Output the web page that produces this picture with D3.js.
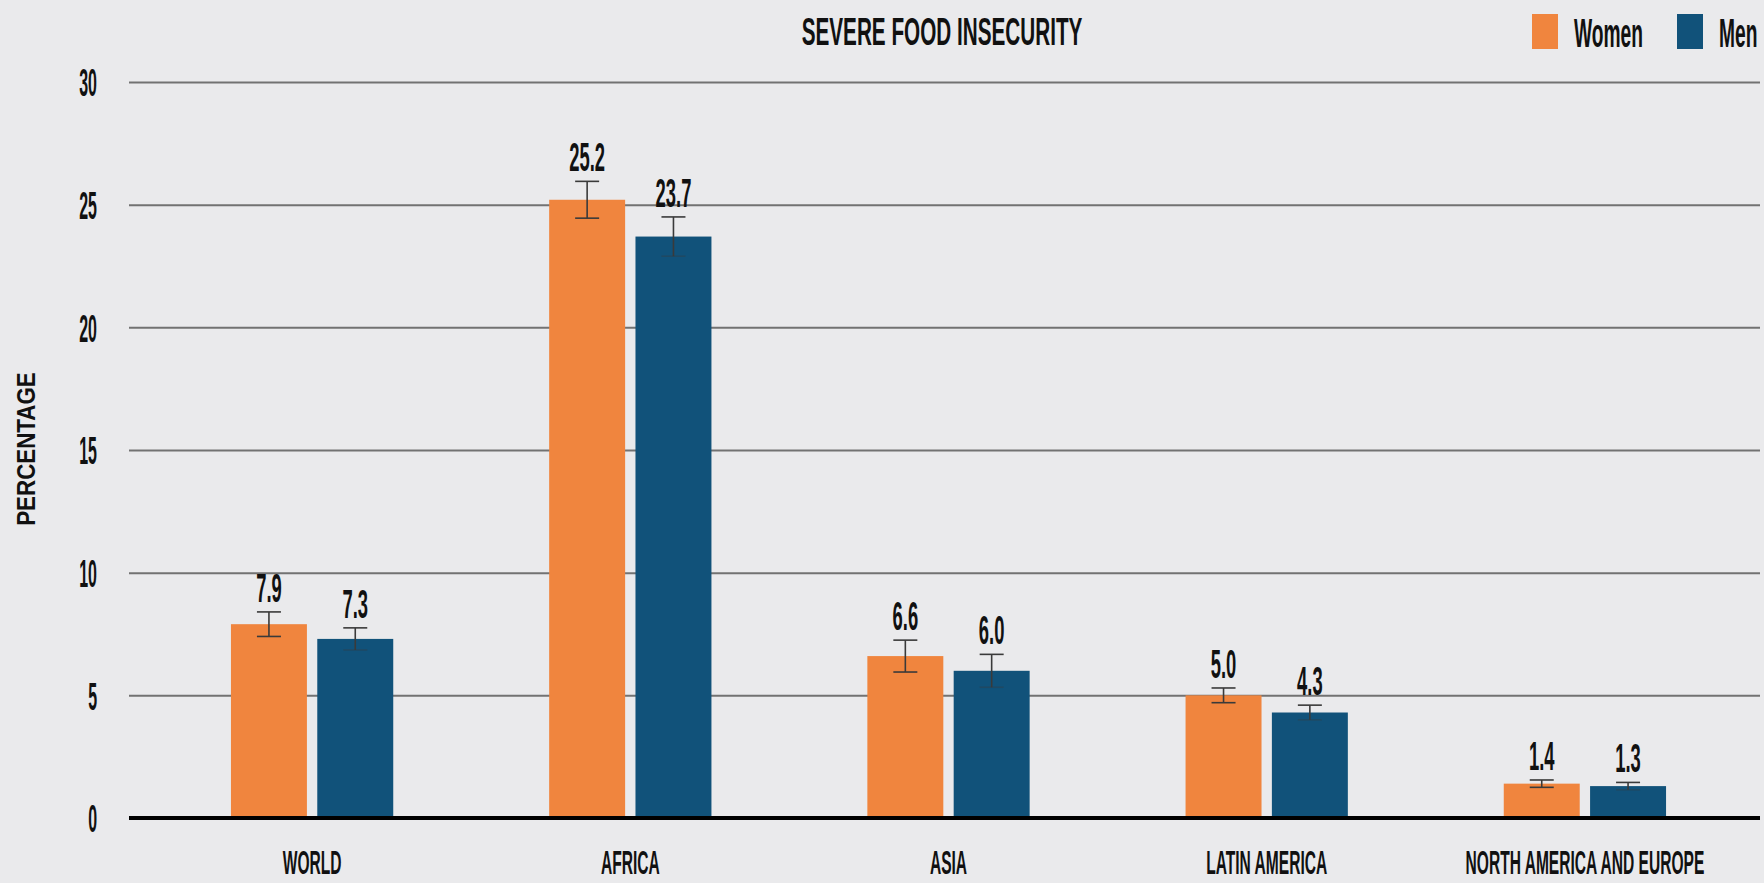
<!DOCTYPE html>
<html lang="en">
  <head>
    <meta charset="utf-8">
    <title>Severe Food Insecurity</title>
    <script src="https://d3js.org/d3.v7.js"></script>
    <style>
      body { margin: 0; background: #eaeaec; }
      text { font-family: "Liberation Sans Narrow", "Liberation Sans", Arial, sans-serif; font-weight: bold; fill: #111; }
    </style>
  </head>
  <body>
    <script>

  // data
  var regions = ["WORLD", "AFRICA", "ASIA", "LATIN AMERICA", "NORTH AMERICA AND EUROPE"];
  var seriesNames = ["Women", "Men"];
  var women = [7.9, 25.2, 6.6, 5.0, 1.4];
  var men = [7.3, 23.7, 6.0, 4.3, 1.3];
  var womenErr = [0.5, 0.75, 0.65, 0.3, 0.15];
  var menErr = [0.45, 0.8, 0.67, 0.3, 0.15];
  var yTicks = [0, 5, 10, 15, 20, 25, 30];

  var w = 1764;
  var h = 883;
  var colors = d3.scaleOrdinal().domain(seriesNames).range(["#f0853e", "#11527a"]);

  // rows for the grouped bars
  var rows = regions.map(function (r, i) {
    return [
      {region: r, key: "Women", value: women[i], err: womenErr[i]},
      {region: r, key: "Men", value: men[i], err: menErr[i]}
    ];
  });

  var gridLeft = 129, gridRight = 1760;

  var yScale = d3.scaleLinear()
    .domain([0, 30])
    .range([818, 82]);

  var x0 = d3.scaleBand()
    .domain(regions)
    .range([153, 1744])
    .paddingInner(0.49)
    .paddingOuter(0.245);

  var x1 = d3.scaleBand()
    .domain(seriesNames)
    .range([0, x0.bandwidth()])
    .paddingInner(0.12);

  var svg = d3.select("body")
    .append("svg")
    .attr("width", w)
    .attr("height", h);

  svg.append("rect")
    .attr("width", w)
    .attr("height", h)
    .attr("fill", "#eaeaec");

  // squeezed text helper (the original uses a very condensed face)
  function label(parent, x, y, str, size, k, anchor) {
    return parent.append("text")
      .attr("transform", `translate(${x},${y}) scale(${k},1)`)
      .attr("text-anchor", anchor || "middle")
      .style("font-size", size + "px")
      .text(str);
  }

  // y axis with gridlines
  var yAxis = d3.axisLeft(yScale)
    .tickValues(yTicks)
    .tickSize(-(gridRight - gridLeft))
    .tickFormat(d3.format("d"));

  var yG = svg.append("g")
    .attr("transform", `translate(${gridLeft},0)`)
    .call(yAxis);

  yG.select(".domain").remove();
  yG.selectAll(".tick line")
    .attr("stroke", "#727272")
    .attr("stroke-width", 2);
  yG.selectAll(".tick text")
    .attr("x", null)
    .attr("dy", "0.36em")
    .attr("transform", "translate(-32,0) scale(0.42,1)")
    .style("font-size", "38px");

  // bars
  var groups = svg.selectAll(".region")
    .data(rows)
    .enter()
    .append("g")
    .attr("class", "region")
    .attr("transform", (d, i) => `translate(${x0(regions[i])},0)`);

  groups.selectAll("rect")
    .data(d => d)
    .enter()
    .append("rect")
    .attr("x", d => x1(d.key))
    .attr("y", d => yScale(d.value))
    .attr("width", x1.bandwidth())
    .attr("height", d => yScale(0) - yScale(d.value))
    .attr("fill", d => colors(d.key));

  // error bars
  var capW = 24;
  var errs = groups.selectAll(".err")
    .data(d => d)
    .enter()
    .append("g")
    .attr("class", "err")
    .attr("stroke", "#3a3a3a")
    .attr("stroke-width", 1.6);

  errs.append("line")
    .attr("x1", d => x1(d.key) + x1.bandwidth() / 2)
    .attr("x2", d => x1(d.key) + x1.bandwidth() / 2)
    .attr("y1", d => yScale(d.value + d.err))
    .attr("y2", d => yScale(d.value - d.err));

  errs.append("line")
    .attr("x1", d => x1(d.key) + x1.bandwidth() / 2 - capW / 2)
    .attr("x2", d => x1(d.key) + x1.bandwidth() / 2 + capW / 2)
    .attr("y1", d => yScale(d.value + d.err))
    .attr("y2", d => yScale(d.value + d.err));

  errs.append("line")
    .attr("x1", d => x1(d.key) + x1.bandwidth() / 2 - capW / 2)
    .attr("x2", d => x1(d.key) + x1.bandwidth() / 2 + capW / 2)
    .attr("y1", d => yScale(d.value - d.err))
    .attr("y2", d => yScale(d.value - d.err))
    .attr("stroke-opacity", d => d.key == "Men" ? 0.35 : 1);

  // value labels
  groups.each(function (d) {
    var g = d3.select(this);
    d.forEach(function (b) {
      label(g, x1(b.key) + x1.bandwidth() / 2, yScale(b.value + b.err) - 10,
        b.value.toFixed(1), 40, 0.46);
    });
  });

  // zero line
  svg.append("line")
    .attr("x1", gridLeft)
    .attr("x2", gridRight)
    .attr("y1", yScale(0))
    .attr("y2", yScale(0))
    .attr("stroke", "#000")
    .attr("stroke-width", 4);

  // category labels
  regions.forEach(function (r) {
    label(svg, x0(r) + x0.bandwidth() / 2, 874, r, 34, 0.458);
  });

  // title
  label(svg, 942, 45, "SEVERE FOOD INSECURITY", 38, 0.545);

  // y axis title
  svg.append("text")
    .attr("transform", "translate(35,449) rotate(-90) scale(0.86,1)")
    .attr("text-anchor", "middle")
    .style("font-family", "'Liberation Sans', Arial, sans-serif")
    .style("font-size", "26px")
    .text("PERCENTAGE");

  // legend
  var legendX = [1532, 1677];
  seriesNames.forEach(function (s, i) {
    svg.append("rect")
      .attr("x", legendX[i])
      .attr("y", 14)
      .attr("width", 26)
      .attr("height", 35)
      .attr("fill", colors(s));
    label(svg, legendX[i] + 42, 47, s, 40, 0.48, "start");
  });

    </script>
  </body>
</html>
